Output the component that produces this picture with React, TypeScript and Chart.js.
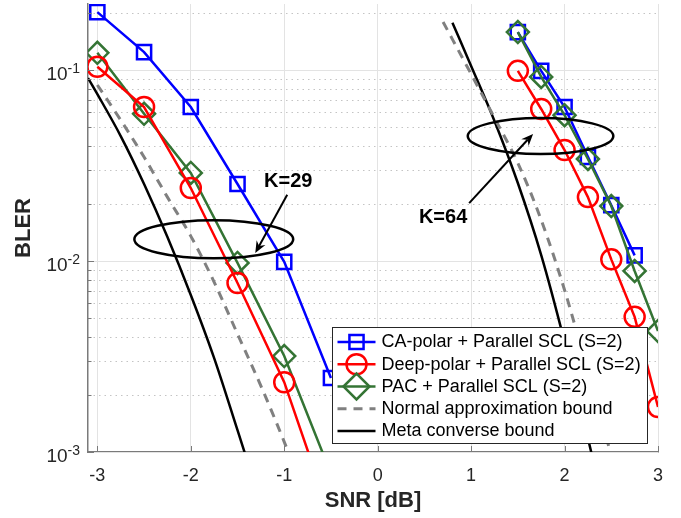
import { useEffect, useRef } from 'react';
import { Chart, registerables } from 'chart.js';

Chart.register(...registerables);

// ---------------- data ----------------
const snrK29 = [-3, -2.5, -2, -1.5, -1, -0.5];
const caPolarK29 = [0.201, 0.124, 0.064, 0.0253, 0.0099, 0.00244];
const deepPolarK29 = [0.104, 0.064, 0.0241, 0.00767, 0.00232, 0.00045];
const pacK29 = [0.123, 0.059, 0.0289, 0.00977, 0.00318, 0.00077];

const snrK64 = [1.5, 1.75, 2, 2.25, 2.5, 2.75, 3];
const caPolarK64 = [0.158, 0.0989, 0.064, 0.0351, 0.0196, 0.0107];
const deepPolarK64 = [0.099, 0.0625, 0.0381, 0.0216, 0.0102, 0.0051, 0.00172];
const pacK64 = [0.158, 0.092, 0.058, 0.0342, 0.0194, 0.00887, 0.0043];

const snrNormalK29 = [-3, -2.75, -2.5, -2.25, -2, -1.75, -1.5, -1.25, -1, -0.75];
const normalApproxK29 = [0.0835, 0.0547, 0.035, 0.0216, 0.0135, 0.00776, 0.00415, 0.00222, 0.00113, 0.000547];
const snrMetaK29 = [-3.1, -3, -2.75, -2.5, -2.25, -2, -1.75, -1.5, -1.25];
const metaConverseK29 = [0.0908, 0.0748, 0.0451, 0.0253, 0.01335, 0.00664, 0.0031, 0.0013, 0.00054];

const snrNormalK64 = [0.7, 1, 1.25, 1.5, 1.75, 2, 2.25, 2.5];
const normalApproxK64 = [0.1784, 0.0953, 0.0561, 0.0326, 0.0164, 0.00705, 0.00262, 0.00096];
const snrMetaK64 = [0.8, 1, 1.25, 1.5, 1.75, 2, 2.25, 2.5];
const metaConverseK64 = [0.1769, 0.105, 0.0541, 0.0256, 0.01074, 0.00377, 0.00118, 0.000363];

const xTicks = [-3, -2, -1, 0, 1, 2, 3];
const yMajorTicks = [0.001, 0.01, 0.1];
const yTickExponents = ['-3', '-2', '-1'];
const yMinorMultipliers = [2, 3, 4, 5, 6, 7, 8, 9];

const legendLabels = [
  'CA-polar + Parallel SCL (S=2)',
  'Deep-polar + Parallel SCL (S=2)',
  'PAC + Parallel SCL (S=2)',
  'Normal approximation bound',
  'Meta converse bound',
];

// annotations (data coordinates)
const kLabels = ['K=29', 'K=64'];
const kLabelSnr = [-0.957, 0.7];
const kLabelBler = [0.0262, 0.0168];
const ellipseSnr = [-1.754, 1.743];
const ellipseBler = [0.013, 0.0451];
const ellipseRadiusDb = [0.85, 0.779];
const ellipseRadiusDecades = [0.1, 0.094];
const arrowFromSnr = [-0.968, 0.979];
const arrowFromBler = [0.0222, 0.0201];
const arrowToSnr = [-1.31, 1.663];
const arrowToBler = [0.011, 0.0463];

// ---------------- styles ----------------
const FONT = '"Liberation Sans", Arial, Helvetica, sans-serif';
const TEXT = '#262626';
const AXIS = '#7a7a7a';
const caColor = '#0000ff';
const deepColor = '#ff0000';
const pacColor = '#347434';
const naColor = '#808080';
const mcColor = '#000000';

type Item = { color: string; dash: number[]; width: number; marker: string | null; radius: number };
const legendStyles: Item[] = [
  { color: caColor, dash: [], width: 2.5, marker: 'rect', radius: 10 },
  { color: deepColor, dash: [], width: 2.5, marker: 'circle', radius: 10 },
  { color: pacColor, dash: [], width: 2.5, marker: 'rectRot', radius: 11 },
  { color: naColor, dash: [9, 7], width: 3, marker: null, radius: 0 },
  { color: mcColor, dash: [], width: 2.5, marker: null, radius: 0 },
];

const pts = (xs: number[], ys: number[]) => ys.map((v, i) => ({ x: xs[i], y: v }));

const series = (label: string, xs: number[], ys: number[], s: Item, order: number) => ({
  label,
  data: pts(xs, ys),
  borderColor: s.color,
  backgroundColor: s.color,
  borderWidth: s.width,
  borderDash: s.dash,
  pointStyle: s.marker || 'circle',
  pointRadius: s.marker ? s.radius : 0,
  pointBorderWidth: 2.5,
  pointBorderColor: s.color,
  pointBackgroundColor: 'rgba(0,0,0,0)',
  tension: 0,
  cubicInterpolationMode: s.marker ? 'default' : 'monotone',
  order,
});

function drawMarker(ctx: CanvasRenderingContext2D, style: string, x: number, y: number, r: number) {
  ctx.beginPath();
  if (style === 'rect') {
    const s = r * Math.SQRT1_2;
    ctx.rect(x - s, y - s, 2 * s, 2 * s);
  } else if (style === 'circle') {
    ctx.arc(x, y, r, 0, Math.PI * 2);
  } else {
    ctx.moveTo(x - r, y);
    ctx.lineTo(x, y - r);
    ctx.lineTo(x + r, y);
    ctx.lineTo(x, y + r);
    ctx.closePath();
  }
  ctx.stroke();
}

function drawArrow(ctx: CanvasRenderingContext2D, x0: number, y0: number, x1: number, y1: number) {
  const a = Math.atan2(y1 - y0, x1 - x0);
  const c = Math.cos(a), s = Math.sin(a);
  const L = 12, W = 5, B = 8;
  ctx.beginPath();
  ctx.moveTo(x0, y0);
  ctx.lineTo(x1 - B * c, y1 - B * s);
  ctx.stroke();
  ctx.beginPath();
  ctx.moveTo(x1, y1);
  ctx.lineTo(x1 - L * c + W * s, y1 - L * s - W * c);
  ctx.lineTo(x1 - B * c, y1 - B * s);
  ctx.lineTo(x1 - L * c - W * s, y1 - L * s + W * c);
  ctx.closePath();
  ctx.fill();
}

const decorPlugin = {
  id: 'decor',
  beforeDatasetsDraw(chart: any) {
    const { ctx, chartArea: a, scales } = chart;
    const y = scales.y;
    ctx.save();
    ctx.lineWidth = 1;
    ctx.strokeStyle = '#c4c4c4';
    ctx.setLineDash([1.5, 4]);
    for (const d of yMajorTicks) {
      for (const m of yMinorMultipliers) {
        const v = d * m;
        if (v > y.max) continue;
        const py = Math.round(y.getPixelForValue(v)) + 0.5;
        ctx.beginPath();
        ctx.moveTo(a.left, py);
        ctx.lineTo(a.right, py);
        ctx.stroke();
      }
    }
    ctx.setLineDash([]);
    ctx.strokeStyle = '#e3e3e3';
    for (const v of yMajorTicks) {
      const py = Math.round(y.getPixelForValue(v)) + 0.5;
      ctx.beginPath();
      ctx.moveTo(a.left, py);
      ctx.lineTo(a.right, py);
      ctx.stroke();
    }
    ctx.restore();
  },
  afterDatasetsDraw(chart: any) {
    const { ctx, chartArea: a, scales } = chart;
    const x = scales.x, y = scales.y;
    ctx.save();
    // inner tick marks
    ctx.strokeStyle = AXIS;
    ctx.lineWidth = 1;
    for (const v of yMajorTicks) {
      const py = Math.round(y.getPixelForValue(v)) + 0.5;
      ctx.beginPath(); ctx.moveTo(a.left, py); ctx.lineTo(a.left + 6, py); ctx.stroke();
      for (const m of yMinorMultipliers) {
        const mv = v * m;
        if (mv > y.max) continue;
        const pm = Math.round(y.getPixelForValue(mv)) + 0.5;
        ctx.beginPath(); ctx.moveTo(a.left, pm); ctx.lineTo(a.left + 3.5, pm); ctx.stroke();
      }
    }
    for (const t of xTicks) {
      const px = Math.round(x.getPixelForValue(t)) + 0.5;
      ctx.beginPath(); ctx.moveTo(px, a.bottom); ctx.lineTo(px, a.bottom - 6); ctx.stroke();
    }
    // y tick labels with superscripts
    ctx.fillStyle = TEXT;
    yMajorTicks.forEach((v, i) => {
      const py = y.getPixelForValue(v);
      ctx.font = `14px ${FONT}`;
      const sw = ctx.measureText(yTickExponents[i]).width;
      const right = a.left - 8;
      const sx = right - sw;
      ctx.textBaseline = 'middle';
      ctx.textAlign = 'left';
      ctx.fillText(yTickExponents[i], sx, py - 1);
      ctx.font = `19px ${FONT}`;
      ctx.textAlign = 'right';
      ctx.fillText('10', sx, py + 4.5);
    });
    // ellipses
    ctx.strokeStyle = '#000';
    ctx.fillStyle = '#000';
    ctx.lineWidth = 2.5;
    ellipseSnr.forEach((s, i) => {
      const cx = x.getPixelForValue(s);
      const cy = y.getPixelForValue(ellipseBler[i]);
      const rx = x.getPixelForValue(s + ellipseRadiusDb[i]) - cx;
      const ry = cy - y.getPixelForValue(ellipseBler[i] * Math.pow(10, ellipseRadiusDecades[i]));
      ctx.beginPath();
      ctx.ellipse(cx, cy, rx, ry, 0, 0, Math.PI * 2);
      ctx.stroke();
    });
    // arrows
    ctx.lineWidth = 2;
    arrowFromSnr.forEach((s, i) => {
      drawArrow(
        ctx,
        x.getPixelForValue(s), y.getPixelForValue(arrowFromBler[i]),
        x.getPixelForValue(arrowToSnr[i]), y.getPixelForValue(arrowToBler[i])
      );
    });
    // K labels
    ctx.font = `bold 20px ${FONT}`;
    ctx.textAlign = 'center';
    ctx.textBaseline = 'middle';
    kLabels.forEach((t, i) => {
      ctx.fillText(t, x.getPixelForValue(kLabelSnr[i]), y.getPixelForValue(kLabelBler[i]));
    });
    ctx.restore();
  },
  afterDraw(chart: any) {
    const { ctx, chartArea: a } = chart;
    ctx.save();
    const w = 315, h = 116;
    const left = a.right - 11 + 0.5 - w;
    const top = a.bottom - 9 + 0.5 - h;
    ctx.fillStyle = '#fff';
    ctx.fillRect(left, top, w, h);
    ctx.strokeStyle = TEXT;
    ctx.lineWidth = 1;
    ctx.strokeRect(left, top, w, h);
    legendLabels.forEach((label, i) => {
      const s = legendStyles[i];
      const cy = top + 14.5 + 22.25 * i;
      ctx.strokeStyle = s.color;
      ctx.lineWidth = s.width;
      ctx.setLineDash(s.dash);
      ctx.beginPath();
      ctx.moveTo(left + 5, cy);
      ctx.lineTo(left + 43, cy);
      ctx.stroke();
      ctx.setLineDash([]);
      if (s.marker) {
        ctx.lineWidth = 2.5;
        drawMarker(ctx, s.marker, left + 24, cy, s.marker === 'rectRot' ? 13 : s.radius);
      }
      ctx.fillStyle = '#000';
      ctx.font = `18px ${FONT}`;
      ctx.textAlign = 'left';
      ctx.textBaseline = 'middle';
      ctx.fillText(label, left + 49, cy + 0.5);
    });
    ctx.restore();
  },
};

export default function App() {
  const ref = useRef<HTMLCanvasElement>(null);
  useEffect(() => {
    const canvas = ref.current;
    if (!canvas) return;
    const chart = new Chart(canvas, {
      type: 'line',
      data: {
        datasets: [
          series(legendLabels[1], snrK29, deepPolarK29, legendStyles[1], 1),
          series(legendLabels[1], snrK64, deepPolarK64, legendStyles[1], 1),
          series(legendLabels[2], snrK29, pacK29, legendStyles[2], 2),
          series(legendLabels[2], snrK64, pacK64, legendStyles[2], 2),
          series(legendLabels[0], snrK29, caPolarK29, legendStyles[0], 3),
          series(legendLabels[0], snrK64, caPolarK64, legendStyles[0], 3),
          series(legendLabels[3], snrNormalK29, normalApproxK29, legendStyles[3], 4),
          series(legendLabels[3], snrNormalK64, normalApproxK64, legendStyles[3], 4),
          series(legendLabels[4], snrMetaK29, metaConverseK29, legendStyles[4], 5),
          series(legendLabels[4], snrMetaK64, metaConverseK64, legendStyles[4], 5),
        ] as any,
      },
      options: {
        responsive: false,
        animation: false,
        events: [],
        layout: { autoPadding: false, padding: { top: 4, right: 23, left: 0, bottom: 0 } },
        plugins: { legend: { display: false }, tooltip: { enabled: false } },
        scales: {
          x: {
            type: 'linear',
            min: -3.1,
            max: 3,
            afterBuildTicks: (s: any) => {
              s.ticks = xTicks.map((v) => ({ value: v }));
            },
            afterFit: (s: any) => {
              s.height = 66;
            },
            grid: { color: '#e3e3e3', lineWidth: 1, drawTicks: false },
            border: { display: true, color: AXIS, width: 1.5 },
            ticks: {
              font: { family: FONT, size: 18, lineHeight: 1.2 },
              color: TEXT,
              padding: 13,
              maxRotation: 0,
              callback: (v: any) => String(v),
            },
            title: {
              display: true,
              text: 'SNR [dB]',
              color: TEXT,
              font: { family: FONT, size: 22, weight: 'bold', lineHeight: 1.2 },
              padding: { top: 0, bottom: 4 },
            },
          },
          y: {
            type: 'logarithmic',
            min: 0.001,
            max: 0.2216,
            afterBuildTicks: (s: any) => {
              s.ticks = yMajorTicks.map((v) => ({ value: v, major: true }));
            },
            afterFit: (s: any) => {
              s.width = 88;
            },
            grid: { display: false },
            border: { display: true, color: AXIS, width: 1.5 },
            ticks: { display: false },
            title: {
              display: true,
              text: 'BLER',
              color: TEXT,
              font: { family: FONT, size: 22, weight: 'bold', lineHeight: 1.2 },
              padding: { top: 11, bottom: 0 },
            },
          },
        },
      } as any,
      plugins: [decorPlugin],
    });
    return () => chart.destroy();
  }, []);
  return (
    <div style={{ position: 'absolute', left: 0, top: 0, width: 681, height: 518, background: '#fff' }}>
      <canvas ref={ref} width={681} height={518} style={{ display: 'block', width: 681, height: 518 }} />
    </div>
  );
}
